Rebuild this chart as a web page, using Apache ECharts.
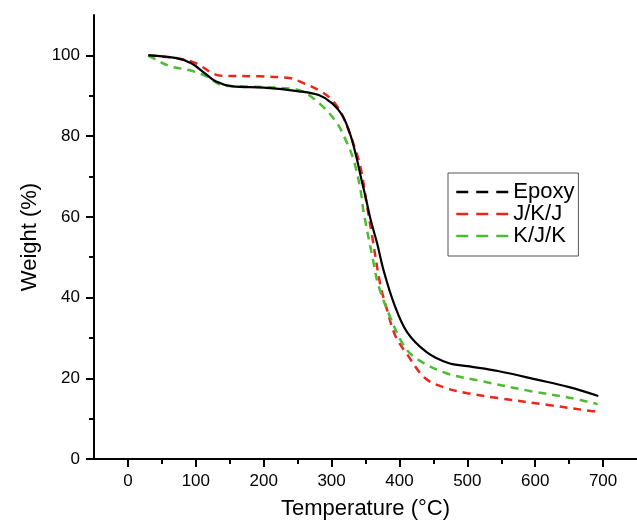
<!DOCTYPE html>
<html>
<head>
<meta charset="utf-8">
<script src="https://cdn.jsdelivr.net/npm/echarts@6/dist/echarts.min.js"></script>
<style>html,body{margin:0;padding:0;background:#fff}#c{width:637px;height:525px}</style>
</head>
<body>
<div id="c"></div>
<script>
var seriesNames = ['Epoxy', 'J/K/J', 'K/J/K'];
var xMajorTicks = [0, 100, 200, 300, 400, 500, 600, 700];
var xMinorTicks = [50, 150, 250, 350, 450, 550, 650];
var yMajorTicks = [0, 20, 40, 60, 80, 100];
var yMinorTicks = [10, 30, 50, 70, 90];

var epoxyT = [30, 72, 94, 110, 130, 154, 200, 252, 282, 301, 316, 328, 337, 345, 350, 358, 367, 377, 392, 411, 440, 472, 500, 545, 604, 650, 693];
var epoxyW = [100, 99.3, 98, 96, 93.5, 92.3, 92, 91.1, 90.1, 88.1, 85.1, 80.2, 74.5, 68.5, 65, 59, 53.5, 46.5, 38.5, 31.5, 26.5, 23.8, 23, 21.8, 19.6, 17.8, 15.6];

var jkjT = [30, 72, 101, 120, 135, 194, 238, 252, 282, 301, 316, 333, 343, 352, 359, 372, 380, 394, 411, 438, 468, 500, 545, 619, 682, 690];
var jkjW = [100, 99.3, 98, 96, 95, 94.8, 94.4, 93.6, 91.3, 88.9, 85.1, 77.7, 72, 62.9, 56, 43, 38, 30.5, 26, 20, 17.6, 16.3, 15.1, 13.4, 11.9, 11.8];

var kjkT = [30, 37, 62, 91, 116, 139, 174, 238, 257, 282, 306, 321, 333, 343, 347, 362, 369, 387, 406, 424, 468, 521, 594, 650, 692];
var kjkW = [100, 99.3, 97.3, 96.3, 94.8, 92.6, 92.3, 91.8, 91.1, 88.1, 83.7, 79, 73.8, 66.3, 61.4, 48.5, 43, 34.9, 28.2, 25, 21.3, 19.3, 16.8, 15.2, 13.6];

function pairs(t, w) { return t.map(function (v, i) { return [v, w[i]]; }); }

var FONT = '"Liberation Sans", Arial, sans-serif';
var chart = echarts.init(document.getElementById('c'), null, { renderer: 'canvas' });

var tickStyle = { color: '#000', width: 2 };

chart.setOption({
  animation: false,
  backgroundColor: '#fff',
  grid: { left: 94, right: 0, top: 15, bottom: 64, containLabel: false },
  xAxis: [
    {
      type: 'value', min: -50, max: 750, position: 'bottom',
      name: 'Temperature (°C)', nameLocation: 'middle', nameGap: 39,
      nameTextStyle: { fontFamily: FONT, fontSize: 22, color: '#000' },
      axisLine: { show: true, onZero: false, lineStyle: { color: '#000', width: 2 } },
      splitLine: { show: false },
      axisTick: { show: true, length: 8, customValues: xMajorTicks, lineStyle: tickStyle },
      axisLabel: { show: true, margin: 14, customValues: xMajorTicks, fontFamily: FONT, fontSize: 17, color: '#000' }
    },
    {
      type: 'value', min: -50, max: 750, position: 'bottom',
      axisLine: { show: false, onZero: false },
      splitLine: { show: false },
      axisTick: { show: true, length: 5, customValues: xMinorTicks, lineStyle: tickStyle },
      axisLabel: { show: false }
    }
  ],
  yAxis: [
    {
      type: 'value', min: 0, max: 110, position: 'left',
      name: 'Weight (%)', nameLocation: 'middle', nameGap: 52, nameRotate: 90,
      nameTextStyle: { fontFamily: FONT, fontSize: 22, color: '#000' },
      axisLine: { show: true, onZero: false, lineStyle: { color: '#000', width: 2 } },
      splitLine: { show: false },
      axisTick: { show: true, length: 8, customValues: yMajorTicks, lineStyle: tickStyle },
      axisLabel: { show: true, margin: 14, customValues: yMajorTicks, fontFamily: FONT, fontSize: 17, color: '#000' }
    },
    {
      type: 'value', min: 0, max: 110, position: 'left', offset: 0,
      axisLine: { show: false, onZero: false },
      splitLine: { show: false },
      axisTick: { show: true, length: 5, customValues: yMinorTicks, lineStyle: tickStyle },
      axisLabel: { show: false }
    }
  ],
  legend: {
    orient: 'vertical',
    left: 448, top: 173,
    padding: [8, 4, 9, 7],
    itemGap: 0,
    itemWidth: 52, itemHeight: 14,
    borderColor: '#555', borderWidth: 1,
    itemStyle: { opacity: 0 },
    textStyle: { fontFamily: FONT, fontSize: 22, color: '#000', lineHeight: 22 },
    data: [
      { name: seriesNames[0], lineStyle: { type: [12, 8], width: 2.5, color: '#000' } },
      { name: seriesNames[1], lineStyle: { type: [12, 8], width: 2.5, color: '#e8261c' } },
      { name: seriesNames[2], lineStyle: { type: [12, 8], width: 2.5, color: '#4dbb34' } }
    ]
  },
  series: [
    {
      name: seriesNames[0], type: 'line', xAxisIndex: 0, yAxisIndex: 0,
      data: pairs(epoxyT, epoxyW), showSymbol: false, symbol: 'none',
      smooth: 0.35, color: '#000', z: 3,
      lineStyle: { color: '#000', width: 2.2, type: 'solid' }
    },
    {
      name: seriesNames[1], type: 'line', xAxisIndex: 0, yAxisIndex: 0,
      data: pairs(jkjT, jkjW), showSymbol: false, symbol: 'none',
      smooth: 0.35, color: '#e8261c', z: 2,
      lineStyle: { color: '#e8261c', width: 2.5, type: [8, 6] }
    },
    {
      name: seriesNames[2], type: 'line', xAxisIndex: 0, yAxisIndex: 0,
      data: pairs(kjkT, kjkW), showSymbol: false, symbol: 'none',
      smooth: 0.35, color: '#4dbb34', z: 2,
      lineStyle: { color: '#4dbb34', width: 2.5, type: [8, 6] }
    }
  ]
});
</script>
</body>
</html>
